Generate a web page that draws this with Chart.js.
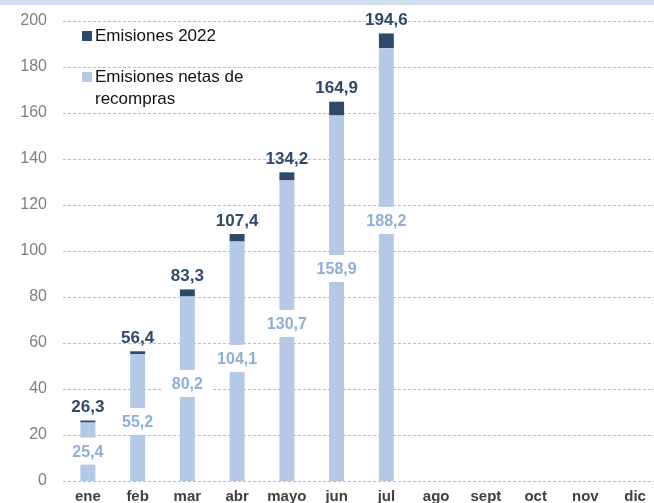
<!DOCTYPE html>
<html>
<head>
<meta charset="utf-8">
<script src="https://cdn.jsdelivr.net/npm/chart.js@4/dist/chart.umd.min.js"></script>
<style>
  html, body { margin: 0; padding: 0; background: #fff; overflow: hidden; }
  #wrap { position: relative; width: 660px; height: 503px; }
  #legend {
    position: absolute; left: 82px; top: 25px;
    font-family: "Liberation Sans", Arial, sans-serif; font-size: 17px; color: #111;
    line-height: 22px;
  }
  .item { display: flex; align-items: flex-start; margin-bottom: 19px; }
  .box { width: 10px; height: 10px; margin: 6px 3px 0 0; flex: none; }
</style>
</head>
<body>
<div id="wrap">
  <canvas id="chart" width="660" height="503"></canvas>
  <div id="legend">
    <div class="item"><span class="box" style="background:#2e4a6b"></span><span>Emisiones 2022</span></div>
    <div class="item"><span class="box" style="background:#b4c9e6"></span><span>Emisiones netas de<br>recompras</span></div>
  </div>
</div>
<script>
const months = ["ene", "feb", "mar", "abr", "mayo", "jun", "jul", "ago", "sept", "oct", "nov", "dic"];
// cumulative emissions net of buybacks
const netValues = [25.4, 55.2, 80.2, 104.1, 130.7, 158.9, 188.2, null, null, null, null, null];
// cumulative gross emissions 2022 (label on top)
const totalValues = [26.3, 56.4, 83.3, 107.4, 134.2, 164.9, 194.6, null, null, null, null, null];
const yTicks = [0, 20, 40, 60, 80, 100, 120, 140, 160, 180, 200];

const DARK = "#2e4a6b";
const LIGHT = "#b4c9e6";
const LIGHT_TEXT = "#8eaed8";
const FONT = "'Liberation Sans', Arial, sans-serif";

// where the net label sits inside each bar, in axis units (labels were placed by hand)
const netLabelAt = [13.0, 25.9, 42.4, 53.3, 68.5, 92.4, 113.3];

const fmt = (v) => v.toFixed(1).replace(".", ",");

const gapValues = totalValues.map((t, i) => (t == null ? null : +(t - netValues[i]).toFixed(1)));

// top band, dotted grid, axis texts and value labels
const labelsPlugin = {
  id: "labels",
  beforeDraw(chart) {
    const ctx = chart.ctx;
    ctx.save();
    ctx.fillStyle = "#d3e0f0";
    ctx.fillRect(0, 0, chart.width, 5);
    ctx.restore();
  },
  beforeDatasetsDraw(chart) {
    const ctx = chart.ctx;
    const { x, y } = chart.scales;
    const { left, right, bottom } = chart.chartArea;
    ctx.save();
    ctx.strokeStyle = "#bdbdbd";
    ctx.lineWidth = 1;
    ctx.setLineDash([3, 2]);
    yTicks.forEach((v) => {
      const py = Math.round(y.getPixelForValue(v)) + 0.5;
      ctx.beginPath();
      ctx.moveTo(left, py);
      ctx.lineTo(right, py);
      ctx.stroke();
    });

    ctx.textBaseline = "middle";
    ctx.textAlign = "right";
    ctx.font = "16px " + FONT;
    ctx.fillStyle = "#7f7f7f";
    yTicks.forEach((v) => {
      ctx.fillText(String(v), 47, y.getPixelForValue(v));
    });

    ctx.textAlign = "center";
    ctx.font = "bold 15px " + FONT;
    ctx.fillStyle = "#404040";
    months.forEach((m, i) => {
      ctx.fillText(m, x.getPixelForValue(i), bottom + 16);
    });
    ctx.restore();
  },
  afterDatasetsDraw(chart) {
    const ctx = chart.ctx;
    const y = chart.scales.y;
    const netMeta = chart.getDatasetMeta(0);
    ctx.save();
    ctx.textAlign = "center";
    ctx.textBaseline = "middle";
    netValues.forEach((v, i) => {
      if (v == null) return;
      const bar = netMeta.data[i];
      const cy = y.getPixelForValue(netLabelAt[i]);
      ctx.font = "bold 16px " + FONT;
      ctx.fillStyle = "#fff";
      ctx.fillRect(bar.x - 25, cy - 13.5, 50, 27);
      ctx.fillStyle = LIGHT_TEXT;
      ctx.fillText(fmt(v), bar.x, cy + 1);

      const top = y.getPixelForValue(totalValues[i]);
      ctx.font = "bold 17px " + FONT;
      ctx.fillStyle = DARK;
      ctx.fillText(fmt(totalValues[i]), bar.x, top - 13);
    });
    ctx.restore();
  },
};

new Chart(document.getElementById("chart"), {
  type: "bar",
  data: {
    labels: months,
    datasets: [
      {
        label: "Emisiones netas de recompras",
        data: netValues,
        backgroundColor: LIGHT,
        barPercentage: 0.3,
        categoryPercentage: 1,
      },
      {
        label: "Emisiones 2022",
        data: gapValues,
        backgroundColor: DARK,
        barPercentage: 0.3,
        categoryPercentage: 1,
      },
    ],
  },
  options: {
    responsive: false,
    animation: false,
    layout: { autoPadding: false, padding: { top: 21, right: 0, bottom: 0, left: 0 } },
    plugins: {
      legend: { display: false },
      tooltip: { enabled: false },
    },
    scales: {
      x: {
        stacked: true,
        grid: { display: false, drawTicks: false },
        border: { display: false },
        ticks: { display: false },
        afterFit: (scale) => {
          scale.height = 22;
        },
      },
      y: {
        stacked: true,
        min: 0,
        max: 200,
        afterBuildTicks: (scale) => {
          scale.ticks = yTicks.map((v) => ({ value: v }));
        },
        afterFit: (scale) => {
          scale.width = 63;
        },
        grid: { display: false, drawTicks: false },
        border: { display: false },
        ticks: { display: false },
      },
    },
  },
  plugins: [labelsPlugin],
});
</script>
</body>
</html>
